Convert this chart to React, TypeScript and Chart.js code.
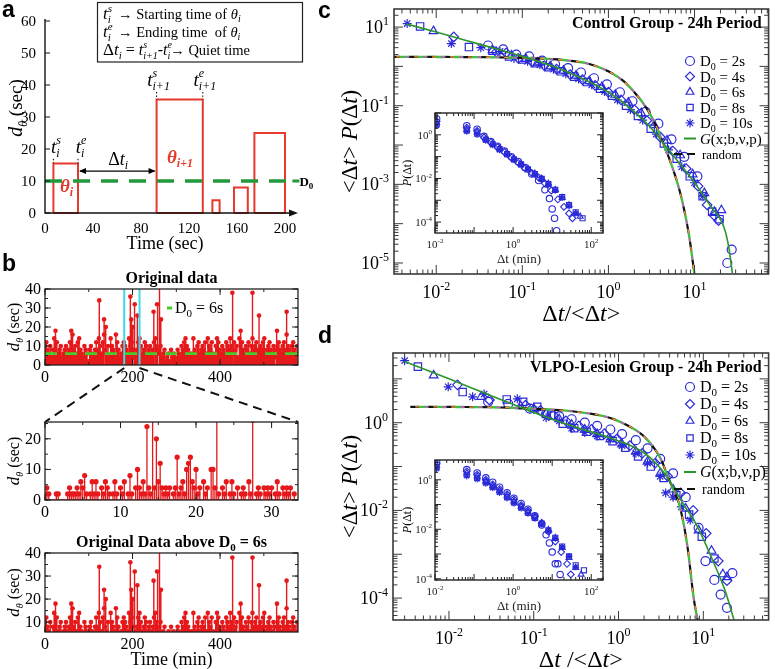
import React, { useEffect, useRef } from 'react';
import { Chart, registerables } from 'chart.js';
import { drawPoint } from 'chart.js/helpers';

Chart.register(...registerables);

const W = 775;
const H = 669;
const SERIF = '"Liberation Serif", "DejaVu Serif", serif';
const SANS = '"Liberation Sans", "DejaVu Sans", sans-serif';

const RED = '#e5191b';
const RED_A = '#e63a2c';
const GREEN_A = '#22993a';
const LIME = '#45cc2a';
const CYAN = '#3dd8ea';
const BLUE = '#2a2ad8';
const GFIT = '#2b962b';
const FRAME = '#3a3a3a';

// ================= DATA =================
// Panel a : schematic pulses
const pulseStart = [7, 93, 139.5, 157.5, 174.5];
const pulseEnd = [27.5, 131.5, 145.5, 169, 200];
const pulseHeight = [15.5, 35.5, 4, 8, 25];
const aThreshold = 10;
const aThresholdEnd = 202;
const aXTicks = [0, 40, 80, 120, 160, 200];
const aYTicks = [0, 10, 20, 30, 40, 50, 60];

// Panel b : original data (3-min samples) + large events
const origStep = 3;
const origValues = [
  10, 12, 8, 6, 10, 4, 8, 14, 18, 12, 6, 8, 10, 4, 6, 8, 10, 6, 8, 12,
  18, 16, 8, 10, 6, 12, 14, 8, 6, 4, 10, 8, 6, 2, 8, 10, 6, 4, 8, 12,
  8, 14, 10, 6, 12, 16, 8, 6, 10, 4, 14, 10, 8, 6, 16, 12, 8, 4, 6, 10,
  12, 10, 8, 6, 14, 10, 12, 8, 4, 6, 8, 12, 14, 10, 6, 8, 12, 10, 6, 8,
  10, 6, 8, 12, 14, 10, 8, 6, 10, 4, 6, 8, 2, 4, 6, 2, 8, 4, 6, 4,
  2, 8, 6, 4, 10, 8, 12, 14, 10, 8, 6, 4, 6, 14, 8, 6, 10, 12, 6, 8,
  10, 8, 12, 6, 14, 10, 8, 12, 6, 4, 10, 14, 12, 8, 6, 10, 8, 6, 12, 10,
  8, 14, 10, 6, 12, 8, 10, 4, 14, 18, 12, 8, 6, 10, 8, 12, 6, 10, 14, 8,
  10, 12, 8, 6, 10, 8, 12, 14, 6, 8, 10, 12, 8, 6, 10, 8, 4, 10, 12, 8,
  6, 10, 12, 8, 16, 10, 8, 6, 10, 12, 8, 6, 10,
];
const spikeTimes = [124, 135, 139, 195, 197, 200, 205, 211, 248, 256, 262, 265, 428, 474, 489, 530, 552];
const spikeValues = [34, 24, 20, 36, 24, 20, 32, 26, 28, 32, 45, 24, 38, 38, 26, 18, 28];
const bThreshold = 6;
const zoomWindow = [181, 216];
const bXTicks = [0, 200, 400];
const bYTicks = [0, 10, 20, 30, 40];
const aboveYTicks = [10, 20, 30, 40];

// Panel b middle : zoomed window (minutes from window start)
const midTimes = [
  0, 0.25, 0.5, 1.5, 1.75,
  3, 3.25, 3.5, 3.75, 4, 4.25, 4.5, 4.75, 5, 5.25, 5.5,
  6, 6.25, 6.5, 6.75, 7, 7.5, 7.75, 8, 8.25, 8.5,
  9, 9.25, 9.5, 10, 10.25, 10.5, 11, 11.25, 11.5,
  12, 12.25, 12.5, 12.75, 13, 13.25, 13.5, 13.75, 14, 14.25, 14.5, 14.75, 15, 15.25, 15.5, 15.75, 16, 16.25, 16.5,
  17, 17.25, 17.5, 17.75, 18, 18.25, 18.5, 18.75, 19, 19.25, 19.5, 19.75, 20, 20.25, 20.5,
  21, 21.25, 21.5, 22, 22.25, 22.5, 22.75, 23, 23.5, 23.75, 24, 24.5, 24.75, 25, 25.5,
  26, 26.25, 26.5, 27, 27.25, 27.5, 28, 28.25, 28.5,
  29, 29.25, 29.5, 29.75, 30, 30.5, 30.75, 31, 31.5, 31.75, 32, 32.25, 32.5, 33,
];
const midValues = [
  2, 4, 2, 2, 2,
  2, 4, 2, 2, 2, 4, 2, 6, 4, 8, 2,
  2, 6, 2, 6, 2, 4, 2, 6, 4, 2,
  2, 6, 2, 4, 2, 6, 2, 8, 2,
  4, 10, 4, 2, 6, 2, 24, 4, 2, 30, 4, 20, 6, 12, 4, 2, 4, 2, 4,
  2, 4, 14, 2, 4, 6, 2, 10, 12, 14, 6, 4, 10, 2, 4,
  6, 2, 4, 10, 10, 4, 30, 2, 4, 2, 6, 2, 6, 2, 4,
  2, 4, 2, 6, 2, 26, 2, 4, 2,
  4, 2, 4, 2, 4, 2, 6, 2, 4, 2, 4, 2, 4, 2,
];
const midXTicks = [0, 10, 20, 30];
const midYTicks = [0, 10, 20];

// Panel c : Control group
const cGX = [0.0045, 0.01, 0.03, 0.1, 0.3, 1, 2, 3, 4.8, 7, 10, 15, 22, 25, 27.5];
const cGY = [12, 7.5, 3.8, 1.8, 0.8, 0.22, 0.07, 0.03, 0.0085, 0.003, 0.0011, 3e-4, 8e-5, 2.5e-5, 5.5e-6];
const cRandX = [0.003, 0.03, 0.1, 0.3, 0.6, 1, 1.5, 2, 2.5, 3, 3.6, 4.2, 5, 6.4, 7.5, 8.7, 10];
const cRandY = [1.75, 1.72, 1.65, 1.45, 1.15, 0.75, 0.42, 0.22, 0.12, 0.065, 0.03, 0.013, 0.005, 1e-3, 2.5e-4, 4.5e-5, 5e-6];
const cCircleX = [0.04, 0.06, 0.085, 0.12, 0.17, 0.24, 0.34, 0.48, 0.68, 0.96, 1.36, 1.9, 2.7, 3.8, 5.4, 7.6, 10.8, 24, 27];
const cCircleY = [3.4, 2.7, 2.0, 1.8, 1.4, 1.15, 0.9, 0.7, 0.5, 0.35, 0.22, 0.13, 0.07, 0.035, 0.014, 0.005, 0.0016, 1e-5, 2.2e-5];
const cDiamondX = [0.016, 0.05, 0.065, 0.09, 0.13, 0.18, 0.25, 0.36, 0.5, 0.7, 1.0, 1.4, 2.0, 2.8, 4.0, 5.6, 8, 11, 14, 17, 19];
const cDiamondY = [5.6, 2.3, 2.2, 1.6, 1.3, 1.05, 0.85, 0.62, 0.46, 0.33, 0.22, 0.14, 0.08, 0.042, 0.016, 0.007, 0.0025, 9e-4, 3e-4, 1.6e-4, 1.2e-4];
const cTriangleX = [0.0093, 0.045, 0.075, 0.11, 0.15, 0.21, 0.3, 0.42, 0.6, 0.84, 1.2, 1.7, 2.4, 3.4, 4.8, 6.8, 9.5, 13, 17, 20.5];
const cTriangleY = [7.9, 2.6, 1.9, 1.55, 1.25, 1.0, 0.78, 0.58, 0.42, 0.3, 0.19, 0.12, 0.065, 0.032, 0.013, 0.0055, 0.0018, 6e-4, 2e-4, 2.2e-4];
const cSquareX = [0.0065, 0.024, 0.045, 0.07, 0.1, 0.14, 0.2, 0.28, 0.4, 0.56, 0.8, 1.1, 1.6, 2.2, 3.1, 4.4, 6.2, 8.8, 12.4, 16, 19.5];
const cSquareY = [10.4, 3.1, 2.5, 1.8, 1.5, 1.2, 0.95, 0.75, 0.55, 0.4, 0.27, 0.18, 0.1, 0.055, 0.026, 0.011, 0.0045, 0.0016, 5e-4, 2e-4, 1.3e-4];
const cStarX = [0.0046, 0.015, 0.033, 0.055, 0.08, 0.115, 0.16, 0.23, 0.32, 0.45, 0.64, 0.9, 1.27, 1.8, 2.5, 3.6, 5.0, 7.1, 10, 12.5];
const cStarY = [12.3, 3.8, 3.0, 2.4, 1.6, 1.35, 1.1, 0.85, 0.65, 0.48, 0.34, 0.23, 0.14, 0.08, 0.043, 0.019, 0.0075, 0.0028, 0.0011, 5e-4];

// Panel c inset : P(dt) vs dt (min)
const icCircleX = [0.011, 0.065, 0.12, 0.18, 0.27, 0.4, 0.6, 0.9, 1.35, 2, 3, 4.5, 6.5, 8.5, 10, 11.5, 13];
const icCircleY = [5.5, 2.6, 1.8, 0.85, 0.5, 0.3, 0.18, 0.1, 0.06, 0.032, 0.016, 0.008, 0.003, 0.0012, 4e-4, 1.5e-4, 4e-5];
const icDiamondX = [0.011, 0.065, 0.12, 0.18, 0.27, 0.4, 0.6, 0.9, 1.35, 2, 3, 4.5, 6.5, 9.5, 14, 20, 27, 33];
const icDiamondY = [4.2, 2.1, 1.5, 0.75, 0.45, 0.27, 0.16, 0.09, 0.052, 0.03, 0.018, 0.011, 0.006, 0.0028, 0.0011, 5e-4, 2.5e-4, 1.5e-4];
const icTriangleX = [0.011, 0.065, 0.12, 0.2, 0.3, 0.45, 0.7, 1.05, 1.6, 2.4, 3.6, 5.4, 8, 12, 18, 27, 40, 52];
const icTriangleY = [3.6, 1.8, 1.35, 0.65, 0.4, 0.24, 0.14, 0.08, 0.047, 0.028, 0.017, 0.01, 0.0058, 0.003, 0.0013, 6e-4, 2.5e-4, 1.8e-4];
const icSquareX = [0.011, 0.065, 0.12, 0.2, 0.3, 0.45, 0.7, 1.05, 1.6, 2.4, 3.6, 5.4, 8, 12, 18, 27, 40, 60];
const icSquareY = [3.0, 1.6, 1.15, 0.6, 0.37, 0.22, 0.13, 0.075, 0.044, 0.026, 0.016, 0.0095, 0.0055, 0.003, 0.0014, 6e-4, 2.8e-4, 1.5e-4];
const icStarX = [0.011, 0.065, 0.12, 0.2, 0.3, 0.45, 0.7, 1.05, 1.6, 2.4, 3.6, 5.4, 8, 12, 18, 27, 40];
const icStarY = [2.6, 1.4, 1.0, 0.55, 0.34, 0.2, 0.12, 0.07, 0.041, 0.025, 0.015, 0.009, 0.0052, 0.0028, 0.0013, 5.5e-4, 2.5e-4];

// Panel d : VLPO-lesion group
const dGX = [0.003, 0.01, 0.03, 0.12, 0.32, 0.8, 1.9, 3, 3.8, 5.8, 8.4, 13, 18, 23];
const dGY = [25, 10, 4.3, 1.5, 0.78, 0.45, 0.22, 0.1, 0.055, 0.014, 0.0045, 7e-4, 1.5e-4, 3.2e-5];
const dRandX = [0.0035, 0.03, 0.12, 0.3, 0.78, 1.3, 1.9, 2.6, 3.2, 3.8, 4.6, 5.3, 6.5, 7.7, 8.6];
const dRandY = [2.3, 2.25, 2.05, 1.8, 1.3, 0.85, 0.53, 0.27, 0.14, 0.06, 0.025, 0.012, 1.5e-3, 1e-4, 3e-5];
const dCircleX = [0.029, 0.05, 0.09, 0.14, 0.2, 0.28, 0.4, 0.56, 0.8, 1.1, 1.6, 2.2, 3.1, 4.4, 6.2, 8.8, 10.6, 13.5, 16, 19, 22];
const dCircleY = [3.0, 2.7, 2.1, 1.6, 1.4, 1.2, 1.0, 0.85, 0.7, 0.55, 0.4, 0.26, 0.15, 0.07, 0.02, 0.004, 7e-4, 2.6e-4, 1.2e-4, 6e-5, 3.7e-4];
const dDiamondX = [0.0126, 0.03, 0.08, 0.12, 0.17, 0.24, 0.34, 0.48, 0.68, 0.96, 1.36, 1.9, 2.7, 3.8, 5.4, 7.6, 10.8, 15, 19];
const dDiamondY = [7.3, 3.3, 2.5, 1.9, 1.5, 1.1, 0.85, 0.7, 0.56, 0.43, 0.3, 0.2, 0.12, 0.06, 0.025, 0.01, 0.003, 7e-4, 2.5e-4];
const dTriangleX = [0.0066, 0.024, 0.07, 0.1, 0.14, 0.2, 0.28, 0.4, 0.56, 0.8, 1.1, 1.6, 2.2, 3.1, 4.4, 6.2, 8.8, 12.5, 17, 19];
const dTriangleY = [12, 3.9, 2.4, 2.1, 1.6, 1.2, 0.9, 0.7, 0.55, 0.42, 0.32, 0.22, 0.13, 0.07, 0.03, 0.011, 0.0035, 0.0012, 3.5e-4, 3e-4];
const dSquareX = [0.0043, 0.0145, 0.048, 0.075, 0.11, 0.16, 0.22, 0.3, 0.42, 0.6, 0.85, 1.2, 1.7, 2.4, 3.4, 4.8, 6.8, 9.6, 13.5];
const dSquareY = [19, 5, 3.4, 3.0, 2.3, 1.45, 0.95, 0.75, 0.62, 0.5, 0.38, 0.27, 0.17, 0.1, 0.055, 0.022, 0.008, 0.0025, 8e-4];
const dStarX = [0.003, 0.0098, 0.019, 0.026, 0.064, 0.1, 0.14, 0.2, 0.28, 0.4, 0.56, 0.8, 1.1, 1.6, 2.2, 3.1, 3.6, 4.4, 5.5, 7];
const dStarY = [26, 6.6, 3.9, 4.5, 3.5, 2.0, 1.3, 1.1, 0.75, 0.6, 0.5, 0.42, 0.3, 0.2, 0.12, 0.06, 0.025, 0.02, 0.012, 0.006];

// Panel d inset
const idCircleX = [0.011, 0.065, 0.12, 0.2, 0.3, 0.45, 0.7, 1.05, 1.6, 2.4, 3.6, 5.4, 7, 8.5, 10, 12, 14, 16];
const idCircleY = [5.2, 2.6, 1.9, 1.2, 0.8, 0.5, 0.3, 0.18, 0.11, 0.065, 0.035, 0.015, 0.006, 0.0028, 1.2e-3, 4e-4, 4e-4, 1.5e-4];
const idDiamondX = [0.011, 0.065, 0.12, 0.2, 0.3, 0.45, 0.7, 1.05, 1.6, 2.4, 3.6, 5.4, 8, 12, 17, 24, 30];
const idDiamondY = [4.4, 2.2, 1.6, 1.0, 0.65, 0.42, 0.26, 0.16, 0.095, 0.058, 0.034, 0.018, 0.008, 0.0032, 0.0012, 4e-4, 1.5e-4];
const idTriangleX = [0.011, 0.065, 0.12, 0.2, 0.3, 0.45, 0.7, 1.05, 1.6, 2.4, 3.6, 5.4, 8, 12, 18, 27, 40, 55];
const idTriangleY = [3.8, 1.9, 1.4, 0.9, 0.58, 0.37, 0.23, 0.14, 0.085, 0.052, 0.031, 0.018, 0.0095, 0.0045, 0.0018, 7e-4, 2.8e-4, 1.5e-4];
const idSquareX = [0.011, 0.065, 0.12, 0.2, 0.3, 0.45, 0.7, 1.05, 1.6, 2.4, 3.6, 5.4, 8, 12, 18, 27, 40, 65];
const idSquareY = [3.2, 1.6, 1.2, 0.8, 0.52, 0.33, 0.2, 0.125, 0.077, 0.047, 0.029, 0.017, 0.009, 0.0045, 0.002, 8e-4, 3.5e-4, 2.2e-4];
const idStarX = [0.011, 0.065, 0.12, 0.2, 0.3, 0.45, 0.7, 1.05, 1.6, 2.4, 3.6, 5.4, 8, 12, 18, 27, 40];
const idStarY = [2.8, 1.4, 1.05, 0.7, 0.46, 0.3, 0.18, 0.11, 0.07, 0.043, 0.027, 0.016, 0.0085, 0.0042, 0.0019, 8e-4, 3e-4];

const seriesLabels = ['2s', '4s', '6s', '8s', '10s'];
const seriesStyles = ['circle', 'rectRot', 'triangle', 'rect', 'star'];
const mainXExps = [-2, -1, 0, 1];
const cYExps = [1, -1, -3, -5];
const dYExps = [0, -2, -4];
const insetXExps = [-2, 0, 2];
const insetYExps = [0, -2, -4];

// ================= LAYOUT =================
type Area = { l: number; t: number; r: number; b: number };
const AREA_A: Area = { l: 45, t: 21, r: 297, b: 213 };
const AREA_B1: Area = { l: 45, t: 289, r: 298, b: 365 };
const AREA_B2: Area = { l: 45, t: 422, r: 298, b: 500 };
const AREA_B3: Area = { l: 45, t: 553, r: 298, b: 632 };
const AREA_C: Area = { l: 394, t: 9, r: 773, b: 274 };
const AREA_CI: Area = { l: 435, t: 113, r: 603, b: 233 };
const AREA_D: Area = { l: 393, t: 353, r: 773, b: 620 };
const AREA_DI: Area = { l: 435, t: 460, r: 603, b: 580 };

// ================= HELPERS =================
type Seg = { t: string; size: number; style?: string; dy?: number; color?: string; noAdv?: boolean; family?: string };

function setFont(ctx: any, s: Seg) {
  ctx.font = `${s.style ? s.style + ' ' : ''}${s.size}px ${s.family || SERIF}`;
}
function segWidth(ctx: any, segs: Seg[]) {
  let w = 0;
  for (const s of segs) {
    setFont(ctx, s);
    if (!s.noAdv) w += ctx.measureText(s.t).width;
  }
  return w;
}
function rich(ctx: any, x: number, y: number, segs: Seg[], align = 'left', color = '#000') {
  const w = segWidth(ctx, segs);
  let cx = align === 'center' ? x - w / 2 : align === 'right' ? x - w : x;
  ctx.save();
  ctx.textAlign = 'left';
  ctx.textBaseline = 'alphabetic';
  for (const s of segs) {
    setFont(ctx, s);
    ctx.fillStyle = s.color || color;
    ctx.fillText(s.t, cx, y + (s.dy || 0));
    if (!s.noAdv) cx += ctx.measureText(s.t).width;
  }
  ctx.restore();
}
function richRot(ctx: any, x: number, y: number, segs: Seg[], base: number) {
  ctx.save();
  ctx.translate(x, y);
  ctx.rotate(-Math.PI / 2);
  rich(ctx, 0, base, segs, 'center');
  ctx.restore();
}
function powSegs(e: number, size: number): Seg[] {
  return [
    { t: '10', size },
    { t: e < 0 ? '-' + -e : String(e), size: Math.round(size * 0.66), dy: -size * 0.45 },
  ];
}
const pts = (xs: number[], ys: number[]) => xs.map((x, i) => ({ x, y: ys[i] }));

function linList(min: number, max: number, step: number, len: number) {
  const out: { v: number; len: number }[] = [];
  const start = Math.ceil(min / step - 1e-9) * step;
  for (let v = start; v <= max + 1e-9; v += step) out.push({ v, len });
  return out;
}
function logList(min: number, max: number, majorLen: number, minorLen: number) {
  const out: { v: number; len: number }[] = [];
  const e0 = Math.floor(Math.log10(min));
  const e1 = Math.ceil(Math.log10(max));
  for (let e = e0; e <= e1; e++) {
    for (let m = 1; m <= 9; m++) {
      const v = m * Math.pow(10, e);
      if (v >= min && v <= max) out.push({ v, len: m === 1 ? majorLen : minorLen });
    }
  }
  return out;
}
function frameTicks(chart: any, xt: any[], yt: any[], color: string, lw: number, frameW: number) {
  const { ctx, chartArea: a, scales } = chart;
  ctx.save();
  ctx.strokeStyle = color;
  ctx.lineWidth = lw;
  ctx.beginPath();
  for (const k of xt) {
    const p = scales.x.getPixelForValue(k.v);
    ctx.moveTo(p, a.bottom);
    ctx.lineTo(p, a.bottom - k.len);
    ctx.moveTo(p, a.top);
    ctx.lineTo(p, a.top + k.len);
  }
  for (const k of yt) {
    const p = scales.y.getPixelForValue(k.v);
    ctx.moveTo(a.left, p);
    ctx.lineTo(a.left + k.len, p);
    ctx.moveTo(a.right, p);
    ctx.lineTo(a.right - k.len, p);
  }
  ctx.stroke();
  ctx.lineWidth = frameW;
  ctx.strokeRect(a.left, a.top, a.right - a.left, a.bottom - a.top);
  ctx.restore();
}

function lineDS(xs: number[], ys: number[], color: string, width: number, dash: number[] = [], offset = 0, smooth = false) {
  return {
    type: 'line',
    data: pts(xs, ys),
    borderColor: color,
    borderWidth: width,
    borderDash: dash,
    borderDashOffset: offset,
    pointRadius: 0,
    fill: false,
    tension: 0,
    cubicInterpolationMode: smooth ? 'monotone' : 'default',
  };
}
function markerDS(xs: number[], ys: number[], style: string, radius: number, bw = 1.2) {
  return {
    type: 'scatter',
    data: pts(xs, ys),
    pointStyle: style,
    pointRadius: radius,
    pointBorderColor: BLUE,
    pointBackgroundColor: 'rgba(0,0,0,0)',
    pointBorderWidth: bw,
    borderColor: BLUE,
    backgroundColor: 'rgba(0,0,0,0)',
    showLine: false,
  };
}
function stemDS(ts: number[], vs: number[], width: number) {
  const data: any[] = [];
  ts.forEach((t, i) => {
    data.push({ x: t, y: 0 }, { x: t, y: vs[i] }, { x: t, y: 0 });
  });
  return { type: 'line', data, borderColor: RED, borderWidth: width, pointRadius: 0, fill: false, tension: 0 };
}
function dotDS(ts: number[], vs: number[], radius: number) {
  return {
    type: 'scatter',
    data: pts(ts, vs),
    pointStyle: 'circle',
    pointRadius: radius,
    pointBackgroundColor: RED,
    pointBorderColor: RED,
    pointBorderWidth: 0,
    showLine: false,
  };
}

function makeConfig(area: Area, xScale: any, yScale: any, datasets: any[], after: (c: any) => void, before?: (c: any) => void) {
  return {
    type: 'line',
    data: { datasets },
    options: {
      animation: false,
      responsive: false,
      maintainAspectRatio: false,
      devicePixelRatio: 1,
      events: [],
      layout: { padding: { left: area.l, top: area.t, right: W - area.r, bottom: H - area.b } },
      plugins: { legend: { display: false }, tooltip: { enabled: false }, title: { display: false } },
      scales: { x: { ...xScale, display: false }, y: { ...yScale, display: false } },
    },
    plugins: [
      {
        id: 'deco',
        beforeDatasetsDraw: (c: any) => { if (before) before(c); },
        afterDraw: (c: any) => after(c),
      },
    ],
  };
}

function panelLetter(ctx: any, letter: string, x: number, y: number) {
  rich(ctx, x, y, [{ t: letter, size: 23, style: 'bold', family: SANS }]);
}

function dThetaTitle(size: number): Seg[] {
  return [
    { t: 'd', size: size + 1, style: 'italic' },
    { t: 'θ', size: Math.round(size * 0.65), style: 'italic', dy: size * 0.25 },
    { t: ' (sec)', size },
  ];
}

// ================= PANEL A =================
function drawA(chart: any) {
  const { ctx, chartArea: a, scales } = chart;
  const X = (v: number) => scales.x.getPixelForValue(v);
  const Y = (v: number) => scales.y.getPixelForValue(v);
  ctx.save();
  ctx.strokeStyle = '#111';
  ctx.fillStyle = '#111';
  ctx.lineWidth = 1.4;
  ctx.beginPath();
  ctx.moveTo(a.left, Y(60) - 2);
  ctx.lineTo(a.left, a.bottom);
  ctx.lineTo(a.right - 7, a.bottom);
  ctx.stroke();
  ctx.beginPath();
  ctx.moveTo(a.right + 1, a.bottom);
  ctx.lineTo(a.right - 8, a.bottom - 3.5);
  ctx.lineTo(a.right - 8, a.bottom + 3.5);
  ctx.closePath();
  ctx.fill();
  ctx.lineWidth = 1.2;
  ctx.beginPath();
  for (const v of aYTicks) { ctx.moveTo(a.left, Y(v)); ctx.lineTo(a.left + 5, Y(v)); }
  ctx.stroke();
  ctx.restore();

  for (const v of aYTicks) rich(ctx, a.left - 9, Y(v) + 5, [{ t: String(v), size: 15 }], 'right');
  for (const v of aXTicks) rich(ctx, X(v), a.bottom + 20, [{ t: String(v), size: 15 }], 'center');
  rich(ctx, (X(0) + X(200)) / 2, a.bottom + 36, [{ t: 'Time (sec)', size: 18 }], 'center');
  richRot(ctx, 16, 108, dThetaTitle(19), 6);
  panelLetter(ctx, 'a', 2, 17);

  // D0 label
  ctx.save();
  ctx.strokeStyle = GREEN_A;
  ctx.lineWidth = 3;
  ctx.beginPath();
  ctx.moveTo(X(aThresholdEnd) + 5, Y(aThreshold));
  ctx.lineTo(X(aThresholdEnd) + 12, Y(aThreshold));
  ctx.stroke();
  ctx.restore();
  rich(ctx, X(aThresholdEnd) + 12, Y(aThreshold) + 5, [
    { t: 'D', size: 13, style: 'bold' },
    { t: '0', size: 9, style: 'bold', dy: 3 },
  ]);

  // t labels with dotted guides
  const tLab = (x: number, y: number, sup: string, sub: string, h: number) => {
    rich(ctx, X(x) + 2, Y(y), [
      { t: 't', size: 19, style: 'italic' },
      { t: sup, size: 12, style: 'italic', dy: -9, noAdv: true },
      { t: sub, size: 12, style: 'italic', dy: 4 },
    ], 'center');
    ctx.save();
    ctx.setLineDash([1.5, 2]);
    ctx.strokeStyle = '#000';
    ctx.lineWidth = 1;
    ctx.beginPath();
    ctx.moveTo(X(x), Y(y) + 6);
    ctx.lineTo(X(x), Y(h));
    ctx.stroke();
    ctx.restore();
  };
  tLab(pulseStart[0], 18.8, 's', 'i', pulseHeight[0]);
  tLab(pulseEnd[0], 18.8, 'e', 'i', pulseHeight[0]);
  tLab(pulseStart[1], 39.7, 's', 'i+1', pulseHeight[1]);
  tLab(pulseEnd[1], 39.7, 'e', 'i+1', pulseHeight[1]);

  // quiet time arrow
  const ay = Y(13.1);
  const x1 = X(pulseEnd[0]);
  const x2 = X(pulseStart[1]);
  ctx.save();
  ctx.strokeStyle = '#000';
  ctx.fillStyle = '#000';
  ctx.lineWidth = 1.2;
  ctx.beginPath();
  ctx.moveTo(x1 + 2, ay);
  ctx.lineTo(x2 - 2, ay);
  ctx.stroke();
  ctx.beginPath();
  ctx.moveTo(x1 + 1, ay); ctx.lineTo(x1 + 8, ay - 3); ctx.lineTo(x1 + 8, ay + 3); ctx.closePath();
  ctx.moveTo(x2 - 1, ay); ctx.lineTo(x2 - 8, ay - 3); ctx.lineTo(x2 - 8, ay + 3); ctx.closePath();
  ctx.fill();
  ctx.restore();
  rich(ctx, X(61), Y(14.9), [
    { t: 'Δ', size: 18 },
    { t: 't', size: 18, style: 'italic' },
    { t: 'i', size: 12, style: 'italic', dy: 4 },
  ], 'center');

  rich(ctx, X(18), Y(6.6), [
    { t: 'θ', size: 19, style: 'bold italic', color: RED_A },
    { t: 'i', size: 12, style: 'bold italic', dy: 4, color: RED_A },
  ], 'center');
  rich(ctx, X(112.5), Y(15.6), [
    { t: 'θ', size: 19, style: 'bold italic', color: RED_A },
    { t: 'i+1', size: 12, style: 'bold italic', dy: 4, color: RED_A },
  ], 'center');

  // definition box
  ctx.save();
  ctx.strokeStyle = '#222';
  ctx.lineWidth = 1.2;
  ctx.strokeRect(97.5, 2.5, 205, 59.5);
  ctx.restore();
  const fs = 14.5;
  rich(ctx, 103, 19, [
    { t: 't', size: 17, style: 'italic' },
    { t: 's', size: 11, style: 'italic', dy: -7, noAdv: true },
    { t: 'i', size: 11, style: 'italic', dy: 4 },
    { t: '  → Starting time of ', size: fs },
    { t: 'θ', size: fs, style: 'italic' },
    { t: 'i', size: 10, style: 'italic', dy: 3 },
  ]);
  rich(ctx, 103, 37, [
    { t: 't', size: 17, style: 'italic' },
    { t: 'e', size: 11, style: 'italic', dy: -7, noAdv: true },
    { t: 'i', size: 11, style: 'italic', dy: 4 },
    { t: '  → Ending time  of ', size: fs },
    { t: 'θ', size: fs, style: 'italic' },
    { t: 'i', size: 10, style: 'italic', dy: 3 },
  ]);
  rich(ctx, 103, 55, [
    { t: 'Δ', size: 17 },
    { t: 't', size: 17, style: 'italic' },
    { t: 'i', size: 11, style: 'italic', dy: 4 },
    { t: ' = ', size: 16 },
    { t: 't', size: 16, style: 'italic' },
    { t: 's', size: 10, style: 'italic', dy: -7, noAdv: true },
    { t: 'i+1', size: 10, style: 'italic', dy: 4 },
    { t: '-', size: 16 },
    { t: 't', size: 16, style: 'italic' },
    { t: 'e', size: 10, style: 'italic', dy: -7, noAdv: true },
    { t: 'i', size: 10, style: 'italic', dy: 4 },
    { t: '→ Quiet time', size: fs },
  ]);
}

// ================= PANEL B =================
function drawLinPanel(chart: any, xMajor: number[], xMinorStep: number, yMajor: number[], yMinorStep: number) {
  const { ctx, chartArea: a, scales } = chart;
  const xs = scales.x;
  const ys = scales.y;
  const xt = [...linList(xs.min, xs.max, xMinorStep, 3), ...xMajor.map((v) => ({ v, len: 6 }))];
  const yt = [...linList(ys.min, ys.max, yMinorStep, 3), ...yMajor.map((v) => ({ v, len: 6 }))];
  frameTicks(chart, xt, yt, '#222', 1, 1.3);
  for (const v of yMajor) rich(ctx, a.left - 4, ys.getPixelForValue(v) + 5, [{ t: String(v), size: 16 }], 'right');
  for (const v of xMajor) rich(ctx, xs.getPixelForValue(v), a.bottom + 17, [{ t: String(v), size: 16 }], 'center');
  richRot(ctx, 14, (a.top + a.bottom) / 2, dThetaTitle(16), 5);
}

function drawB1(chart: any) {
  const { ctx, chartArea: a, scales } = chart;
  drawLinPanel(chart, bXTicks, 100, bYTicks, 5);
  rich(ctx, (a.left + a.right) / 2, a.top - 6, [{ t: 'Original data', size: 16, style: 'bold' }], 'center');
  panelLetter(ctx, 'b', 2, 271);
  // legend
  ctx.save();
  ctx.strokeStyle = LIME;
  ctx.lineWidth = 3;
  ctx.beginPath();
  ctx.moveTo(167, 308);
  ctx.lineTo(172, 308);
  ctx.stroke();
  ctx.restore();
  rich(ctx, 175, 313, [{ t: 'D', size: 16 }, { t: '0', size: 11, dy: 4 }, { t: ' = 6s', size: 16 }]);
  // connectors to zoomed panel
  ctx.save();
  ctx.setLineDash([9, 6]);
  ctx.strokeStyle = '#111';
  ctx.lineWidth = 2;
  ctx.beginPath();
  ctx.moveTo(scales.x.getPixelForValue(zoomWindow[0]), a.bottom + 3);
  ctx.lineTo(AREA_B2.l, AREA_B2.t);
  ctx.moveTo(scales.x.getPixelForValue(zoomWindow[1]), a.bottom + 3);
  ctx.lineTo(AREA_B2.r, AREA_B2.t);
  ctx.stroke();
  ctx.restore();
}
function drawB2(chart: any) {
  drawLinPanel(chart, midXTicks, 5, midYTicks, 5);
}
function drawB3(chart: any) {
  const { ctx, chartArea: a } = chart;
  drawLinPanel(chart, bXTicks, 100, aboveYTicks, 5);
  rich(ctx, (a.left + a.right) / 2, a.top - 6, [
    { t: 'Original Data above D', size: 16, style: 'bold' },
    { t: '0', size: 11, style: 'bold', dy: 4 },
    { t: ' = 6s', size: 16, style: 'bold' },
  ], 'center');
  rich(ctx, (a.left + a.right) / 2, a.bottom + 33, [{ t: 'Time (min)', size: 18 }], 'center');
}

// ================= PANELS C / D =================
function dtSegs(size: number, spaced: boolean): Seg[] {
  return [
    { t: 'Δ', size },
    { t: 't', size, style: 'italic' },
    { t: spaced ? ' /<Δ' : '/<Δ', size },
    { t: 't', size, style: 'italic' },
    { t: '>', size },
  ];
}
function ylabSegs(size: number): Seg[] {
  return [
    { t: '<Δ', size },
    { t: 't', size, style: 'italic' },
    { t: '> ', size },
    { t: 'P', size, style: 'italic' },
    { t: '(Δ', size },
    { t: 't', size, style: 'italic' },
    { t: ')', size },
  ];
}

function drawLogMain(chart: any, yExps: number[], title: string, legendTop: number, rowH: number, fs: number, spaced: boolean, letter: string, letterY: number) {
  const { ctx, chartArea: a, scales } = chart;
  const xs = scales.x;
  const ys = scales.y;
  frameTicks(chart, logList(xs.min, xs.max, 9, 4.5), logList(ys.min, ys.max, 9, 4.5), FRAME, 1, 1.6);
  for (const e of mainXExps) rich(ctx, xs.getPixelForValue(Math.pow(10, e)), a.bottom + 24, powSegs(e, 18), 'center');
  for (const e of yExps) rich(ctx, a.left - 5, ys.getPixelForValue(Math.pow(10, e)) + 6, powSegs(e, 18), 'right');
  rich(ctx, a.right - 7, a.top + 19, [{ t: title, size: 16, style: 'bold' }], 'right');
  rich(ctx, (a.left + a.right) / 2 + 0, a.bottom + 47, dtSegs(24, spaced), 'center');
  richRot(ctx, 349, (a.top + a.bottom) / 2, ylabSegs(23), 8);
  panelLetter(ctx, letter, 318, letterY);

  // legend
  const mx = 690;
  const tx = 700;
  const sub = Math.round(fs * 0.68);
  ctx.save();
  for (let k = 0; k < 5; k++) {
    const y = legendTop + k * rowH;
    ctx.strokeStyle = BLUE;
    ctx.fillStyle = 'rgba(0,0,0,0)';
    ctx.lineWidth = 1.2;
    drawPoint(ctx, { pointStyle: seriesStyles[k], radius: 4.5, rotation: 0, borderWidth: 1.2 }, mx, y - 5);
    rich(ctx, tx, y, [{ t: 'D', size: fs }, { t: '0', size: sub, dy: 3.5 }, { t: ' = ' + seriesLabels[k], size: fs }]);
  }
  let y = legendTop + 5 * rowH;
  ctx.strokeStyle = GFIT;
  ctx.lineWidth = 2;
  ctx.setLineDash([]);
  ctx.beginPath();
  ctx.moveTo(684, y - 5);
  ctx.lineTo(696, y - 5);
  ctx.stroke();
  rich(ctx, tx, y, [{ t: 'G', size: fs, style: 'italic' }, { t: '(x;b,ν,p)', size: fs }]);
  y = legendTop + 6 * rowH;
  ctx.strokeStyle = '#111';
  ctx.setLineDash([8, 5]);
  ctx.beginPath();
  ctx.moveTo(674, y - 5);
  ctx.lineTo(698, y - 5);
  ctx.stroke();
  ctx.setLineDash([]);
  rich(ctx, tx + 2, y, [{ t: 'random', size: fs - 2 }]);
  ctx.restore();
}

function drawInset(chart: any) {
  const { ctx, chartArea: a, scales } = chart;
  const xs = scales.x;
  const ys = scales.y;
  frameTicks(chart, logList(xs.min, xs.max, 6, 3), logList(ys.min, ys.max, 6, 3), '#222', 1, 1.4);
  for (const e of insetXExps) rich(ctx, xs.getPixelForValue(Math.pow(10, e)), a.bottom + 15, powSegs(e, 11), 'center', '#222');
  for (const e of insetYExps) rich(ctx, a.left - 3, ys.getPixelForValue(Math.pow(10, e)) + 4, powSegs(e, 11), 'right', '#222');
  rich(ctx, (a.left + a.right) / 2, a.bottom + 30, [{ t: 'Δt (min)', size: 13 }], 'center', '#222');
  richRot(ctx, a.left - 28, (a.top + a.bottom) / 2, [
    { t: 'P', size: 12, style: 'italic' },
    { t: '(Δt)', size: 12 },
  ], 4);
}
function insetBg(chart: any) {
  const { ctx, chartArea: a } = chart;
  ctx.save();
  ctx.fillStyle = '#fff';
  ctx.fillRect(a.left - 32, a.top - 2, a.right - a.left + 34, a.bottom - a.top + 33);
  ctx.restore();
}

function randomLayers(xs: number[], ys: number[]) {
  return [
    lineDS(xs, ys, '#d24fd2', 1.4, [4, 14], 4, true),
    lineDS(xs, ys, '#f0a030', 1.4, [4, 14], 13, true),
    lineDS(xs, ys, '#111111', 2.2, [9, 9], 0, true),
    lineDS(xs, ys, '#3cc23c', 2.4, [9, 9], 9, true),
  ];
}

// ================= APP =================
export default function App() {
  const refs = useRef<(HTMLCanvasElement | null)[]>([]);

  useEffect(() => {
    const origTimes = origValues.map((_, i) => i * origStep);
    const allT = [...origTimes, ...spikeTimes];
    const allV = [...origValues, ...spikeValues];
    const order = allT.map((_, i) => i).sort((p, q) => allT[p] - allT[q]);
    const evT = order.map((i) => allT[i]);
    const evV = order.map((i) => allV[i]);
    const bMax = 578;

    const pulsePath: any[] = [];
    pulseStart.forEach((s, i) => {
      const e = pulseEnd[i];
      const h = pulseHeight[i];
      pulsePath.push({ x: s, y: 0 }, { x: s, y: h }, { x: e, y: h }, { x: e, y: 0 }, { x: s, y: 0 }, { x: s, y: null });
    });

    const configs: any[] = [
      makeConfig(
        AREA_A,
        { type: 'linear', min: 0, max: 210 },
        { type: 'linear', min: 0, max: 60 },
        [
          { ...lineDS([0, aThresholdEnd], [aThreshold, aThreshold], GREEN_A, 3.5, [17, 11]), clip: 6 },
          { type: 'line', data: pulsePath, borderColor: RED_A, borderWidth: 2, pointRadius: 0, fill: false, tension: 0, spanGaps: false, clip: 6 },
        ],
        drawA,
      ),
      makeConfig(
        AREA_B1,
        { type: 'linear', min: 0, max: bMax },
        { type: 'linear', min: 0, max: 40 },
        [
          lineDS([0, bMax], [bThreshold, bThreshold], LIME, 2.6, [12, 8]),
          lineDS([zoomWindow[0], zoomWindow[0]], [0, 40], CYAN, 2),
          lineDS([zoomWindow[1], zoomWindow[1]], [0, 40], CYAN, 2),
          dotDS(evT, evV, 2.3),
          stemDS(evT, evV, 1.4),
        ],
        drawB1,
      ),
      makeConfig(
        AREA_B2,
        { type: 'linear', min: 0, max: 33.5 },
        { type: 'linear', min: 0, max: 25.5 },
        [dotDS(midTimes, midValues, 2.6), stemDS(midTimes, midValues, 1.3)],
        drawB2,
      ),
      makeConfig(
        AREA_B3,
        { type: 'linear', min: 0, max: bMax },
        { type: 'linear', min: 5.7, max: 40 },
        [dotDS(evT, evV, 2.3), stemDS(evT, evV, 1.4)],
        drawB3,
      ),
      makeConfig(
        AREA_C,
        { type: 'logarithmic', min: Math.pow(10, -2.49), max: Math.pow(10, 1.86) },
        { type: 'logarithmic', min: Math.pow(10, -5.28), max: Math.pow(10, 1.46) },
        [
          lineDS(cGX, cGY, GFIT, 1.6, [], 0, true),
          ...randomLayers(cRandX, cRandY),
          markerDS(cCircleX, cCircleY, 'circle', 4.5),
          markerDS(cDiamondX, cDiamondY, 'rectRot', 4.8),
          markerDS(cTriangleX, cTriangleY, 'triangle', 5),
          markerDS(cSquareX, cSquareY, 'rect', 5.2),
          markerDS(cStarX, cStarY, 'star', 4.5),
        ],
        (c: any) => drawLogMain(c, cYExps, 'Control Group - 24h Period', 66, 15.5, 15, false, 'c', 18),
      ),
      makeConfig(
        AREA_CI,
        { type: 'logarithmic', min: 0.01, max: 200 },
        { type: 'logarithmic', min: Math.pow(10, -4.5), max: 10 },
        [
          markerDS(icCircleX, icCircleY, 'circle', 3.2, 1.1),
          markerDS(icDiamondX, icDiamondY, 'rectRot', 3.4, 1.1),
          markerDS(icTriangleX, icTriangleY, 'triangle', 3.4, 1.1),
          markerDS(icSquareX, icSquareY, 'rect', 3.6, 1.1),
          markerDS(icStarX, icStarY, 'star', 3.2, 1.1),
        ],
        drawInset,
        insetBg,
      ),
      makeConfig(
        AREA_D,
        { type: 'logarithmic', min: Math.pow(10, -2.66), max: Math.pow(10, 1.77) },
        { type: 'logarithmic', min: Math.pow(10, -4.5), max: Math.pow(10, 1.59) },
        [
          lineDS(dGX, dGY, GFIT, 1.6, [], 0, true),
          ...randomLayers(dRandX, dRandY),
          markerDS(dCircleX, dCircleY, 'circle', 4.5),
          markerDS(dDiamondX, dDiamondY, 'rectRot', 4.8),
          markerDS(dTriangleX, dTriangleY, 'triangle', 5),
          markerDS(dSquareX, dSquareY, 'rect', 5.2),
          markerDS(dStarX, dStarY, 'star', 4.5),
        ],
        (c: any) => drawLogMain(c, dYExps, 'VLPO-Lesion Group - 24h Period', 392, 17, 16, true, 'd', 343),
      ),
      makeConfig(
        AREA_DI,
        { type: 'logarithmic', min: 0.01, max: 200 },
        { type: 'logarithmic', min: Math.pow(10, -4.05), max: Math.pow(10, 0.8) },
        [
          markerDS(idCircleX, idCircleY, 'circle', 3.2, 1.1),
          markerDS(idDiamondX, idDiamondY, 'rectRot', 3.4, 1.1),
          markerDS(idTriangleX, idTriangleY, 'triangle', 3.4, 1.1),
          markerDS(idSquareX, idSquareY, 'rect', 3.6, 1.1),
          markerDS(idStarX, idStarY, 'star', 3.2, 1.1),
        ],
        drawInset,
        insetBg,
      ),
    ];

    const charts = configs.map((cfg, i) => new Chart(refs.current[i] as HTMLCanvasElement, cfg));
    return () => charts.forEach((c) => c.destroy());
  }, []);

  return (
    <div style={{ position: 'absolute', left: 0, top: 0, width: W, height: H, background: '#fff', overflow: 'hidden' }}>
      {Array.from({ length: 8 }).map((_, i) => (
        <canvas
          key={i}
          ref={(el) => { refs.current[i] = el; }}
          width={W}
          height={H}
          style={{ position: 'absolute', left: 0, top: 0, width: W, height: H }}
        />
      ))}
    </div>
  );
}
